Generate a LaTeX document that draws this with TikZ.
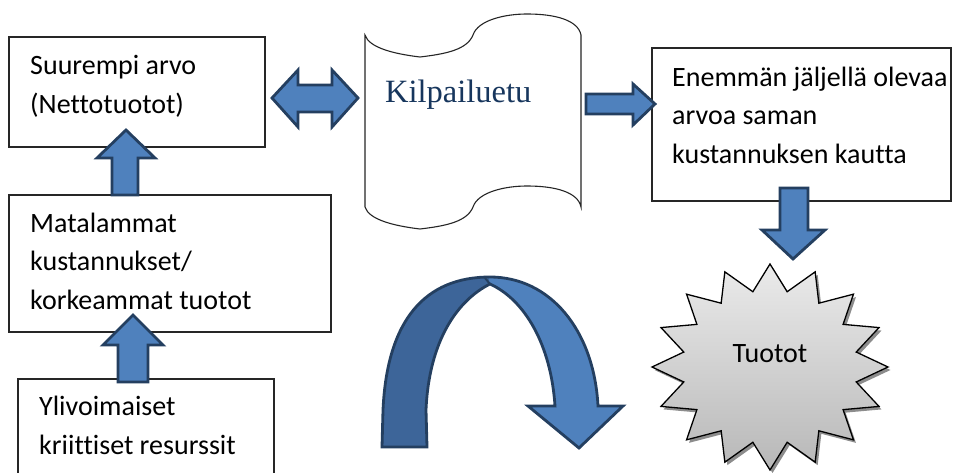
\documentclass[tikz,border=0pt]{standalone}
\usepackage{fontspec}
\setmainfont{Carlito}[Ligatures={NoCommon}]
\newfontfamily\kserif{Liberation Serif}
\definecolor{afill}{HTML}{4F81BD}
\definecolor{aline}{HTML}{243F60}
\definecolor{adark}{HTML}{3D6599}
\definecolor{ktext}{HTML}{17365D}
\tikzset{
  box/.style={draw=black!85, line width=1.2pt, fill=white, inner sep=0pt, outer sep=0pt, anchor=north west},
  blockarrow/.style={fill=afill, draw=aline, line width=2.8pt, line join=miter},
  txt/.style={anchor=base west, inner sep=0pt, font=\fontsize{28}{32}\selectfont},
}
\begin{document}
\begin{tikzpicture}[x=1pt,y=-1pt]
\useasboundingbox (0,0) rectangle (960,473);
\clip (0,0) rectangle (960,473);
% boxes
\node[box, minimum width=256pt, minimum height=110pt] (b1) at (9,37) {};
\node[box, minimum width=322pt, minimum height=137pt] (b2) at (9,195) {};
\node[box, minimum width=256pt, minimum height=110pt] (b3) at (18,379) {};
\node[box, minimum width=299pt, minimum height=153pt] (b4) at (652,48) {};
% texts
\node[txt] (t1a) at (30,75) {Suurempi arvo};
\node[txt] (t1b) at (30,114) {(Nettotuotot)};
\node[txt] (t2a) at (30,232) {Matalammat};
\node[txt] (t2b) at (30,270.5) {kustannukset/};
\node[txt] (t2c) at (30,309) {korkeammat tuotot};
\node[txt] (t3a) at (39,415) {Ylivoimaiset};
\node[txt] (t3b) at (39,454) {kriittiset resurssit};
\node[txt] (t4a) at (672,87) {Enemmän jäljellä olevaa};
\node[txt] (t4b) at (672,125) {arvoa saman};
\node[txt] (t4c) at (672,163.5) {kustannuksen kautta};
% scroll
\draw[black!85, line width=1.1pt, fill=white]
  (365,35) .. controls (369,48) and (395,54) .. (420,57)
  .. controls (445,54) and (467,50) .. (473,35)
  .. controls (478,20) and (505,14) .. (527,14)
  .. controls (555,14) and (578,20) .. (581,35)
  -- (581,207)
  .. controls (578,192) and (555,186) .. (527,186)
  .. controls (505,186) and (478,192) .. (473,207)
  .. controls (467,222) and (445,226) .. (420,229)
  .. controls (395,226) and (369,220) .. (365,207) -- cycle;
\node[anchor=base west, inner sep=0pt, text=ktext, font=\kserif\fontsize{32.5}{36}\selectfont] (k) at (385,103) {Kilpailuetu};
% block arrows
\draw[blockarrow] (112,195) -- (112,158) -- (97,158) -- (126,130) -- (155,158) -- (138,158) -- (138,195) -- cycle;
\draw[blockarrow] (118,382) -- (118,345) -- (103,345) -- (133,315) -- (163,345) -- (148,345) -- (148,382) -- cycle;
\draw[blockarrow] (272,98) -- (298,70) -- (298,85) -- (332,85) -- (332,70) -- (358,98) -- (332,127) -- (332,112) -- (298,112) -- (298,127) -- cycle;
\draw[blockarrow] (586,94) -- (633,94) -- (633,84) -- (655,104) -- (633,125) -- (633,114) -- (586,114) -- cycle;
\draw[blockarrow] (780,188) -- (808,188) -- (808,230) -- (825,230) -- (793,259) -- (762,230) -- (780,230) -- cycle;
% curved arrow
\def\arcpath{(382,447) -- (383,410) .. controls (387,320) and (425,277) .. (490,277) .. controls (550,277) and (594,330) .. (598,406) -- (623,406) -- (579,448) -- (528,406) -- (555,406) .. controls (551,345) and (525,300) .. (490,284) .. controls (458,300) and (429,340) .. (426,410) -- (427,447) -- cycle}
\fill[afill] \arcpath;
\begin{scope}
  \clip (370,270) rectangle (489,460);
  \fill[adark] \arcpath;
\end{scope}
\draw[aline, line width=2.8pt, line join=miter] \arcpath;
\draw[aline, line width=2pt] (490,284) -- (485,278);
% star
\def\starpath{(90:118 and 103) \foreach \i in {1,...,31}{ -- ({90+\i*11.25}:{118*(1-0.255*mod(\i,2))} and {103*(1-0.255*mod(\i,2))}) } -- cycle}
\fill[black!45, shift={(772.5,370)}] \starpath;
\shade[top color=black!8, bottom color=black!28, draw=black, line width=1.3pt, shift={(770,367)}] \starpath;
\node[anchor=base, inner sep=0pt, font=\fontsize{28}{32}\selectfont] (s) at (770,362) {Tuotot};
\end{tikzpicture}
\end{document}
